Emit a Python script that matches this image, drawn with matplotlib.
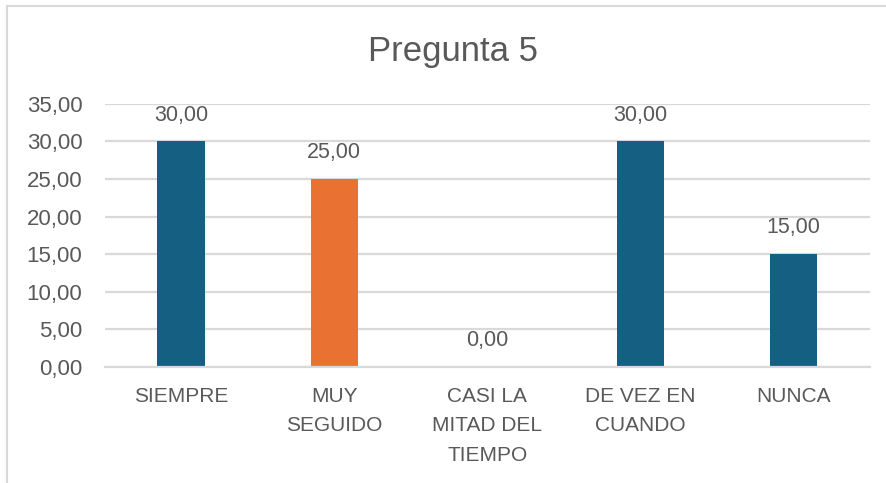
import matplotlib.pyplot as plt
from matplotlib.lines import Line2D

plt.rcParams['font.family'] = ['Liberation Sans', 'DejaVu Sans']

categories = ["SIEMPRE", "MUY\nSEGUIDO", "CASI LA\nMITAD DEL\nTIEMPO", "DE VEZ EN\nCUANDO", "NUNCA"]
values = [30.0, 25.0, 0.0, 30.0, 15.0]
bar_colors = ["#156082", "#E97132", "#156082", "#156082", "#156082"]
yticks = [0, 5, 10, 15, 20, 25, 30, 35]

text_color = "#595959"
grid_color = "#D9D9D9"

fig = plt.figure(figsize=(8.87, 4.83), dpi=100)
ax = fig.add_axes([0.118, 0.240, 0.863, 0.545])

x = list(range(len(categories)))
bars = ax.bar(x, values, width=0.31, color=bar_colors, zorder=3)

# data labels
for xi, v in zip(x, values):
    ax.annotate(f"{v:.2f}".replace(".", ","), (xi, v), xytext=(0, 19),
                textcoords="offset points", ha="center", va="center",
                fontsize=15.5, color=text_color)

ax.set_xlim(-0.5, len(categories) - 0.5)
ax.set_ylim(0, 35)
ax.set_yticks(yticks)
ax.set_yticklabels([f"{t:.2f}".replace(".", ",") for t in yticks])
ax.set_xticks(x)
ax.set_xticklabels(categories, linespacing=1.7, va="top")

ax.tick_params(axis="y", length=0, pad=16, labelsize=16, labelcolor=text_color)
ax.tick_params(axis="x", length=0, pad=14, labelsize=15, labelcolor=text_color)

ax.grid(axis="y", color=grid_color, linewidth=1.6, zorder=0)
for side in ["left", "right", "top"]:
    ax.spines[side].set_visible(False)
ax.spines["bottom"].set_color(grid_color)
ax.spines["bottom"].set_linewidth(1.6)
ax.spines["bottom"].set_zorder(4)

fig.text(0.511, 0.894, "Pregunta 5", ha="center", va="center",
         fontsize=25, color=text_color)

# chart border (left and top edges visible)
fig.add_artist(Line2D([7 / 887, 7 / 887], [0, 1 - 6 / 483], transform=fig.transFigure,
                      color=grid_color, linewidth=1.5))
fig.add_artist(Line2D([7 / 887, 1], [1 - 6 / 483, 1 - 6 / 483], transform=fig.transFigure,
                      color=grid_color, linewidth=1.5))

fig.savefig("out.png", dpi=100, facecolor="white")
